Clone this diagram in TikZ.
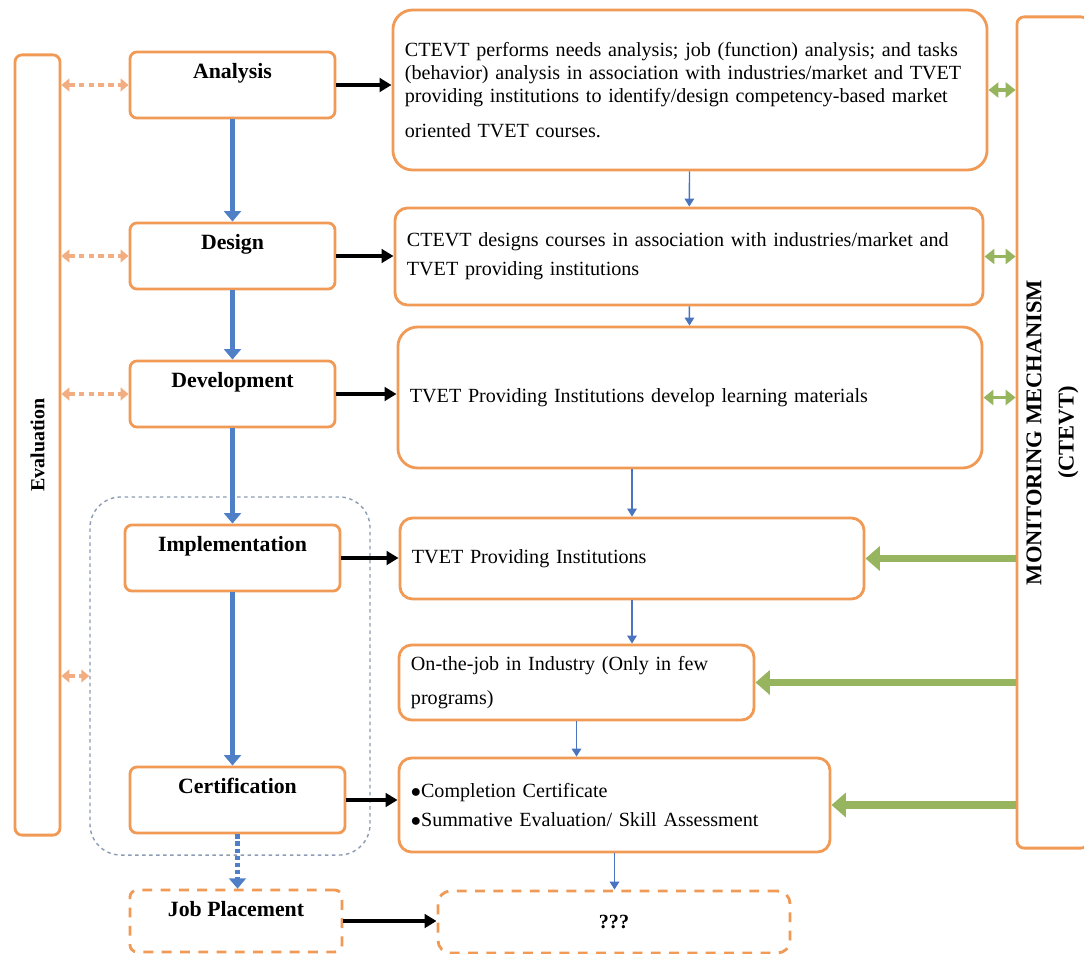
\documentclass[tikz,border=0pt]{standalone}
\usepackage{fontspec}
\setmainfont{Liberation Serif}
\usetikzlibrary{arrows.meta,positioning,calc}
\definecolor{cvLine}{HTML}{F09A55}
\definecolor{cvEval}{HTML}{F2AE82}
\definecolor{cvStep}{HTML}{4F7FC7}
\definecolor{cvLink}{HTML}{4A74C0}
\definecolor{cvMon}{HTML}{97B45E}
\definecolor{cvGrp}{HTML}{8C9CB4}
\tikzset{
  cv/.style={line join=round, >={Triangle[length=3mm, width=3.4mm]}},
  stage/.style={draw=cvLine, fill=white, line width=2pt, rounded corners=5pt,
    font=\fontsize{15.5}{18}\selectfont\bfseries, text height=19pt, text depth=28pt,
    inner ysep=0pt, minimum width=5.125cm},
  open/.style={stage, dash pattern=on 7pt off 6pt},
  note/.style={draw=cvLine, fill=white, line width=2pt, rounded corners=9pt, align=left,
    font=\fontsize{14.3}{16.4}\selectfont, inner xsep=0.3cm},
  side/.style={draw=cvLine, fill=white, line width=2pt, rounded corners=5pt},
  grp/.style={draw=cvGrp, line width=1pt, dash pattern=on 2.5pt off 2.5pt, rounded corners=22pt},
  flow/.style={->, draw=black, line width=2.8pt},
  stepflow/.style={-{Triangle[length=2.6mm, width=4.2mm]}, draw=cvStep, line width=3.8pt},
  link/.style={-{Triangle[length=2mm, width=2.4mm]}, draw=cvLink, line width=1pt},
  evx/.style={{Triangle[length=2mm, width=3.2mm]}-{Triangle[length=2mm, width=3.2mm]}, draw=cvEval,
    line width=3.2pt, dash pattern=on 4pt off 3pt},
  mons/.style={{Triangle[length=2.5mm, width=3.8mm]}-{Triangle[length=2.5mm, width=3.8mm]}, draw=cvMon, line width=2.8pt},
  monb/.style={-{Triangle[length=3.6mm, width=6mm]}, draw=cvMon, line width=5.4pt},
}
\begin{document}
\begin{tikzpicture}[cv, x=0.025cm, y=-0.025cm]
\useasboundingbox (0,0) rectangle (1084,953);
\clip (0,0) rectangle (1084,953);
% Bewertung links, Monitoring rechts
\node[side, minimum width=1.125cm, minimum height=19.5cm,
  label={[rotate=90, font=\fontsize{14.2}{16}\selectfont\bfseries]center:Evaluation}] (eval) at (37.5,445) {};
\node[side, minimum width=1.775cm, minimum height=20.775cm,
  label={[rotate=90, align=center, font=\fontsize{16}{23}\selectfont\bfseries]center:MONITORING MECHANISM\\(CTEVT)}] (mon) at (1052.5,432.5) {};
% Gruppe Umsetzung
\node[grp, minimum width=7cm, minimum height=8.95cm] (grp) at (230,676) {};
% Phasen
\node[stage] (ana) at (232.5,85)  {Analysis};
\node[stage] (des) at (232.5,256) {Design};
\node[stage] (dev) at (232.5,394) {Development};
\node[stage, minimum width=5.375cm] (imp) at (232.5,558) {Implementation};
\node[stage, minimum width=5.375cm] (cer) at (237.5,800) {Certification};
\node[open, minimum width=5.3cm, text depth=25pt] (job) at (236,921) {Job Placement};
% Beschreibungen
\node[note, text width=14.25cm, minimum height=4cm, rounded corners=14pt] (r1) at (690,90) {CTEVT performs needs analysis; job (function) analysis; and tasks\\(behavior) analysis in association with industries/market and TVET\\providing institutions to identify/design competency-based market\\[9pt]oriented TVET courses.};
\node[note, text width=14.1cm, minimum height=2.425cm] (r2) at (689,256.5) {CTEVT designs courses in association with industries/market and\\[4pt]TVET providing institutions};
\node[note, text width=14cm, minimum height=3.525cm, rounded corners=14pt] (r3) at (690,397.5) {TVET Providing Institutions develop learning materials};
\node[note, text width=11cm, minimum height=2.025cm] (r4) at (632,558.5) {TVET Providing Institutions};
\node[note, text width=8.275cm, minimum height=1.875cm] (r5) at (576.5,682.5) {On-the-job in Industry (Only in few\\[8pt]programs)};
\node[note, text width=10.175cm, minimum height=2.35cm] (r6) at (614.5,805) {$\bullet$Completion Certificate\\[4pt]$\bullet$Summative Evaluation/ Skill Assessment};
\node[note, dash pattern=on 7pt off 6pt, text width=8.2cm, minimum height=1.55cm, align=center,
  font=\fontsize{14.3}{16.4}\selectfont\bfseries] (r7) at (614,922) {???};

\draw[stepflow] (ana) -- (des);
\draw[stepflow] (des) -- (dev);
\draw[stepflow] (dev) -- (imp);
\draw[stepflow] (imp.south) -- (imp.south |- cer.north);
\draw[stepflow, dash pattern=on 3pt off 2pt] (cer.south) -- (cer.south |- job.north);

\draw[flow] (ana.east) -- (ana.east -| r1.west);
\draw[flow] (des.east) -- (des.east -| r2.west);
\draw[flow] (dev.east) -- (dev.east -| r3.west);
\draw[flow] (imp.east) -- (imp.east -| r4.west);
\draw[flow] (cer.east) -- (cer.east -| r6.west);
\draw[flow] (job.east) -- (job.east -| r7.west);

\draw[link] (r1) -- (r2);
\draw[link] (r2) -- (r3);
\draw[link] (r3.south -| r4.north) -- (r4.north);
\draw[link] (r4.south) -- (r4.south |- r5.north);
\draw[link] (r5.south) -- (r5.south |- r6.north);
\draw[link] (r6.south) -- (r6.south |- r7.north);

\draw[evx] (ana.west -| eval.east) -- (ana.west);
\draw[evx] (des.west -| eval.east) -- (des.west);
\draw[evx] (dev.west -| eval.east) -- (dev.west);
\draw[evx] (grp.west -| eval.east) -- (grp.west);

\draw[mons] (r1.east -| mon.west) -- (r1.east);
\draw[mons] (r2.east -| mon.west) -- (r2.east);
\draw[mons] (r3.east -| mon.west) -- (r3.east);
\draw[monb] (r4.east -| mon.west) -- (r4.east);
\draw[monb] (r5.east -| mon.west) -- (r5.east);
\draw[monb] (r6.east -| mon.west) -- (r6.east);
\end{tikzpicture}
\end{document}
